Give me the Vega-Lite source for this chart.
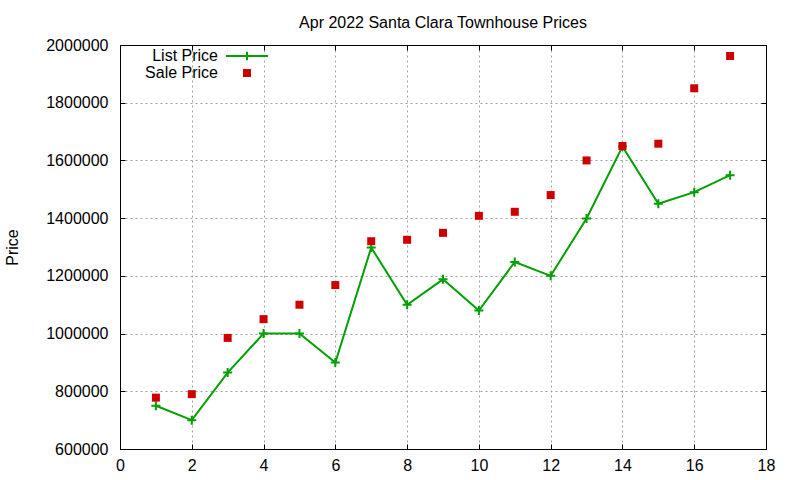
{
  "$schema": "https://vega.github.io/schema/vega-lite/v6.json",
  "width": 646,
  "height": 404,
  "autosize": "none",
  "padding": {"left": 120, "top": 45, "right": 34, "bottom": 31},
  "background": "white",
  "title": {
    "text": "Apr 2022 Santa Clara Townhouse Prices",
    "anchor": "middle",
    "fontSize": 16,
    "fontWeight": "normal",
    "color": "black",
    "offset": -7,
    "baseline": "alphabetic"
  },
  "data": {
    "values": [
      {"n": 1, "series": "List Price", "price": 750000},
      {"n": 2, "series": "List Price", "price": 700000},
      {"n": 3, "series": "List Price", "price": 865000},
      {"n": 4, "series": "List Price", "price": 1000000},
      {"n": 5, "series": "List Price", "price": 1000000},
      {"n": 6, "series": "List Price", "price": 900000},
      {"n": 7, "series": "List Price", "price": 1298000},
      {"n": 8, "series": "List Price", "price": 1100000},
      {"n": 9, "series": "List Price", "price": 1188000},
      {"n": 10, "series": "List Price", "price": 1080000},
      {"n": 11, "series": "List Price", "price": 1248000},
      {"n": 12, "series": "List Price", "price": 1200000},
      {"n": 13, "series": "List Price", "price": 1399000},
      {"n": 14, "series": "List Price", "price": 1648000},
      {"n": 15, "series": "List Price", "price": 1450000},
      {"n": 16, "series": "List Price", "price": 1490000},
      {"n": 17, "series": "List Price", "price": 1549000},
      {"n": 1, "series": "Sale Price", "price": 778000},
      {"n": 2, "series": "Sale Price", "price": 790000},
      {"n": 3, "series": "Sale Price", "price": 985000},
      {"n": 4, "series": "Sale Price", "price": 1050000},
      {"n": 5, "series": "Sale Price", "price": 1100000},
      {"n": 6, "series": "Sale Price", "price": 1168000},
      {"n": 7, "series": "Sale Price", "price": 1320000},
      {"n": 8, "series": "Sale Price", "price": 1325000},
      {"n": 9, "series": "Sale Price", "price": 1349000},
      {"n": 10, "series": "Sale Price", "price": 1408000},
      {"n": 11, "series": "Sale Price", "price": 1422000},
      {"n": 12, "series": "Sale Price", "price": 1480000},
      {"n": 13, "series": "Sale Price", "price": 1600000},
      {"n": 14, "series": "Sale Price", "price": 1650000},
      {"n": 15, "series": "Sale Price", "price": 1658000},
      {"n": 16, "series": "Sale Price", "price": 1850000},
      {"n": 17, "series": "Sale Price", "price": 1962000}
    ]
  },
  "layer": [
    {
      "transform": [{"filter": "datum.series === 'List Price'"}],
      "mark": {"type": "line", "strokeWidth": 2},
      "encoding": {
        "x": {
          "field": "n",
          "type": "quantitative",
          "scale": {"domain": [0, 18], "nice": false, "zero": false},
          "axis": {
            "orient": "bottom",
            "values": [0, 2, 4, 6, 8, 10, 12, 14, 16, 18],
            "title": null,
            "grid": true,
            "tickSize": -5,
            "labelPadding": 13,
            "labelFlush": false
          }
        },
        "y": {
          "field": "price",
          "type": "quantitative",
          "scale": {"domain": [600000, 2000000], "nice": false, "zero": false},
          "axis": {
            "orient": "left",
            "values": [600000, 800000, 1000000, 1200000, 1400000, 1600000, 1800000, 2000000],
            "format": "d",
            "title": "Price",
            "grid": true,
            "tickSize": -5,
            "labelPadding": 17,
            "labelFlush": false,
            "titlePadding": 28,
            "titleBaseline": "alphabetic"
          }
        },
        "color": {
          "field": "series",
          "type": "nominal",
          "scale": {"domain": ["List Price", "Sale Price"], "range": ["#00a000", "#cc0000"]},
          "legend": {
            "orient": "none",
            "legendX": 119,
            "legendY": 3,
            "title": null,
            "padding": 0,
            "rowPadding": -1,
            "labelFontSize": 16,
            "labelColor": "black",
            "labelAlign": "right",
            "labelOffset": -37,
            "symbolSize": 64,
            "encode": {
              "symbols": {
                "update": {
                  "shape": {"signal": "datum.value === 'List Price' ? 'M-1,0H1M0,-0.2V0.2' : 'square'"},
                  "size": {"signal": "datum.value === 'List Price' ? 1764 : 64"},
                  "strokeWidth": {"signal": "datum.value === 'List Price' ? 2 : 0"},
                  "stroke": {"signal": "datum.value === 'List Price' ? '#00a000' : '#cc0000'"},
                  "fill": {"signal": "datum.value === 'List Price' ? 'transparent' : '#cc0000'"},
                  "opacity": {"value": 1}
                }
              }
            }
          }
        }
      }
    },
    {
      "transform": [{"filter": "datum.series === 'List Price'"}],
      "mark": {
        "type": "point",
        "shape": "M-1,0H1M0,-1V1",
        "filled": false,
        "color": "#00a000",
        "strokeWidth": 2,
        "size": 81,
        "opacity": 1
      },
      "encoding": {
        "x": {
          "field": "n",
          "type": "quantitative",
          "axis": {"orient": "top", "values": [0, 2, 4, 6, 8, 10, 12, 14, 16, 18], "labels": false, "grid": false, "title": null, "tickSize": -5}
        },
        "y": {
          "field": "price",
          "type": "quantitative",
          "axis": {"orient": "right", "values": [600000, 800000, 1000000, 1200000, 1400000, 1600000, 1800000, 2000000], "labels": false, "grid": false, "title": null, "tickSize": -5}
        }
      }
    },
    {
      "transform": [{"filter": "datum.series === 'Sale Price'"}],
      "mark": {"type": "square", "color": "#cc0000", "size": 64, "opacity": 1},
      "encoding": {
        "x": {"field": "n", "type": "quantitative", "axis": null},
        "y": {"field": "price", "type": "quantitative", "axis": null}
      }
    }
  ],
  "resolve": {"axis": {"x": "independent", "y": "independent"}},
  "config": {
    "font": "Liberation Sans",
    "view": {"stroke": "black", "strokeWidth": 1},
    "axis": {
      "labelFontSize": 16,
      "labelColor": "black",
      "titleFontSize": 16,
      "titleFontWeight": "normal",
      "titleColor": "black",
      "domainColor": "black",
      "tickColor": "black",
      "gridColor": "#a0a0a0",
      "gridDash": [2, 3],
      "gridWidth": 1
    }
  }
}
